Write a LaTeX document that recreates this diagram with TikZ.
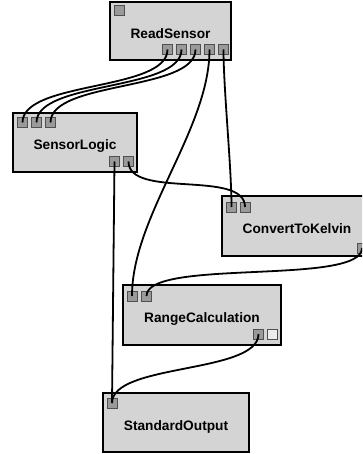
\documentclass[tikz,border=0pt]{standalone}
\usepackage{fontspec}
\setmainfont{Liberation Sans}
\begin{document}
\begin{tikzpicture}[x=1pt,y=-1pt,
  blk/.style={draw=black,line width=2pt,fill=boxgray,inner sep=0pt,
    text height=15pt,text depth=0pt,
    font=\fontsize{13.7}{16}\selectfont\bfseries},
  port/.style={draw=portedge,line width=1pt,fill=portgray,minimum size=10pt,inner sep=0pt},
  freeport/.style={port,fill=freegray},
  wire/.style={line width=1.8pt,draw=black}]
\definecolor{boxgray}{HTML}{D4D4D4}
\definecolor{portgray}{HTML}{9A9A9A}
\definecolor{portedge}{HTML}{505050}
\definecolor{freegray}{HTML}{ECECEC}
\clip (0,0) rectangle (362,454);
\fill[white] (0,0) rectangle (362,454);

% blocks
\node[blk,minimum width=121,minimum height=58] (rs) at (170.5,31) {ReadSensor};
\node[blk,minimum width=124,minimum height=59] (sl) at (75,142.5) {SensorLogic};
\node[blk,minimum width=150,minimum height=60] (ck) at (297,226) {ConvertToKelvin};
\node[blk,minimum width=158,minimum height=60] (rc) at (202,315) {RangeCalculation};
\node[blk,minimum width=146,minimum height=59] (so) at (176,422.5) {StandardOutput};

% ports
\node[port] (rsin) at (119,11) {};
\node[port] (rs1) at (167.5,49.5) {};
\node[port] (rs2) at (181.5,49.5) {};
\node[port] (rs3) at (195.5,49.5) {};
\node[port] (rs4) at (209.5,49.5) {};
\node[port] (rs5) at (223.5,49.5) {};
\node[port] (sl1) at (22.5,122.5) {};
\node[port] (sl2) at (36.5,122.5) {};
\node[port] (sl3) at (50.5,122.5) {};
\node[port] (slo1) at (114.5,161.5) {};
\node[port] (slo2) at (128.5,161.5) {};
\node[port] (ck1) at (231.5,207) {};
\node[port] (ck2) at (245,207) {};
\node[port] (cko) at (362,248) {};
\node[port] (rc1) at (132,296) {};
\node[port] (rc2) at (146.5,296) {};
\node[port] (rco) at (258.5,334) {};
\node[freeport] (rcf) at (272,334) {};
\node[port] (soin) at (112,403) {};

% wires
\draw[wire] (rs1.center) .. controls +(0,42) and +(0,-42) .. (sl1.center);
\draw[wire] (rs2.center) .. controls +(0,42) and +(0,-42) .. (sl2.center);
\draw[wire] (rs3.center) .. controls +(0,42) and +(0,-42) .. (sl3.center);
\draw[wire] (rs4.center) .. controls +(0,80) and +(0,-80) .. (rc1.center);
\draw[wire] (rs5.center) .. controls +(0,40) and +(0,-40) .. (ck1.center);
\draw[wire] (slo1.center) -- (soin.center);
\draw[wire] (slo2.center) .. controls +(0,38) and +(0,-38) .. (ck2.center);
\draw[wire] (cko.center) .. controls +(0,38) and +(0,-38) .. (rc2.center);
\draw[wire] (rco.center) .. controls +(0,40) and +(0,-40) .. (soin.center);
\end{tikzpicture}
\end{document}
